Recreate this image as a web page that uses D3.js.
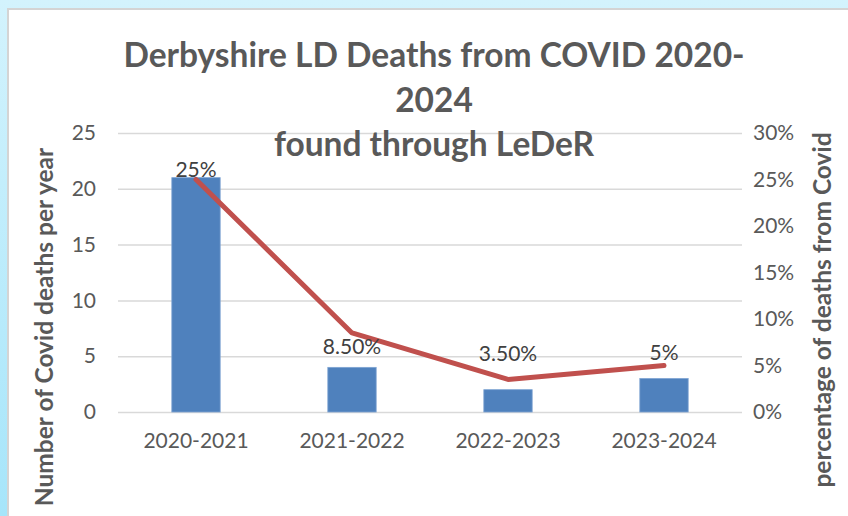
<!DOCTYPE html>
<html><head><meta charset="utf-8">
<script src="https://cdn.jsdelivr.net/npm/d3@7"></script>
<style>html,body{margin:0;padding:0;}svg{display:block;}</style>
</head><body>
<script>
const categories = ["2020-2021", "2021-2022", "2022-2023", "2023-2024"];
const deaths = [21, 4, 2, 3];
const percentages = [25, 8.5, 3.5, 5];
const percentLabels = ["25%", "8.50%", "3.50%", "5%"];
const leftTicks = [0, 5, 10, 15, 20, 25];
const rightTicks = [0, 5, 10, 15, 20, 25, 30];
const titleLines = ["Derbyshire LD Deaths from COVID 2020-", "2024", "found through LeDeR"];
const leftTitle = "Number of Covid deaths per year";
const rightTitle = "percentage of deaths from Covid";
// label vertical offsets (px) relative to line points
const labelDy = [-3, 21, -18, -6];

const W = 848, H = 516;
const svg = d3.select("body").append("svg").attr("width", W).attr("height", H);
const defs = svg.append("defs");
const g1 = defs.append("linearGradient").attr("id","bg").attr("x1",0).attr("y1",0).attr("x2",0).attr("y2",1);
g1.append("stop").attr("offset","0%").attr("stop-color","#d3f3fd");
g1.append("stop").attr("offset","100%").attr("stop-color","#a6e5fa");
svg.append("rect").attr("width",W).attr("height",H).attr("fill","url(#bg)");
svg.append("rect").attr("x",8).attr("y",9).attr("width",W).attr("height",H)
  .attr("fill","#fff").attr("stroke","#d4d4d4").attr("stroke-width",2);

const font = "Lato, 'Open Sans', sans-serif";
const x = d3.scaleBand().domain(categories).range([118, 742]).paddingInner(0.69).paddingOuter(0.345);
const xc = d3.scalePoint().domain(categories).range([118, 742]).padding(0.5);
const yL = d3.scaleLinear().domain([0, 25]).range([412, 133]);
const yR = d3.scaleLinear().domain([0, 30]).range([412, 133]);

// gridlines
svg.append("g").selectAll("line").data(leftTicks).join("line")
  .attr("x1",118).attr("x2",742).attr("y1",d=>yL(d)+0.5).attr("y2",d=>yL(d)+0.5)
  .attr("stroke","#d9d9d9").attr("stroke-width",1.5);

// left axis
const axL = svg.append("g").attr("transform","translate(118,0)")
  .call(d3.axisLeft(yL).tickValues(leftTicks).tickSize(0).tickPadding(22));
axL.select(".domain").remove();
axL.selectAll("text").attr("font-family",font).attr("font-size",21).attr("fill","#595959");

// right axis
const axR = svg.append("g").attr("transform","translate(742,0)")
  .call(d3.axisRight(yR).tickValues(rightTicks).tickSize(0).tickPadding(11).tickFormat(d=>d+"%"));
axR.select(".domain").remove();
axR.selectAll("text").attr("font-family",font).attr("font-size",21).attr("fill","#595959");

// x axis
const axX = svg.append("g").attr("transform","translate(0,412)")
  .call(d3.axisBottom(x).tickSize(0).tickPadding(21));
axX.select(".domain").remove();
axX.selectAll("text").attr("font-family",font).attr("font-size",21).attr("fill","#595959");

// bars
svg.append("g").selectAll("rect").data(deaths).join("rect")
  .attr("x",(d,i)=>x(categories[i])).attr("width",x.bandwidth())
  .attr("y",d=>yL(d)).attr("height",d=>yL(0)-yL(d))
  .attr("fill","#4f81bd").attr("stroke","#7ea4d3").attr("stroke-width",0.8);

// line
const line = d3.line().x((d,i)=>xc(categories[i])).y(d=>yR(d));
svg.append("path").datum(percentages).attr("d",line).attr("fill","none")
  .attr("stroke","#c0504d").attr("stroke-width",5).attr("stroke-linecap","round").attr("stroke-linejoin","round");

// labels
svg.append("g").selectAll("text").data(percentages).join("text")
  .attr("x",(d,i)=>xc(categories[i])).attr("y",(d,i)=>yR(d)+labelDy[i])
  .attr("text-anchor","middle").attr("font-family",font).attr("font-size",21).attr("fill","#404040")
  .text((d,i)=>percentLabels[i]);

// title
svg.append("g").selectAll("text").data(titleLines).join("text")
  .attr("x",434).attr("y",(d,i)=>67+i*44.5)
  .attr("text-anchor","middle").attr("font-family",font).attr("font-weight","bold")
  .attr("font-size",33.5).attr("fill","#595959").text(d=>d);

// axis titles
svg.append("text").attr("transform","translate(53,327) rotate(-90)")
  .attr("text-anchor","middle").attr("font-family",font).attr("font-weight","bold")
  .attr("font-size",24.5).attr("fill","#595959").text(leftTitle);
svg.append("text").attr("transform","translate(831,310) rotate(-90)")
  .attr("text-anchor","middle").attr("font-family",font).attr("font-weight","bold")
  .attr("font-size",24.5).attr("fill","#595959").text(rightTitle);
</script>
</body></html>
